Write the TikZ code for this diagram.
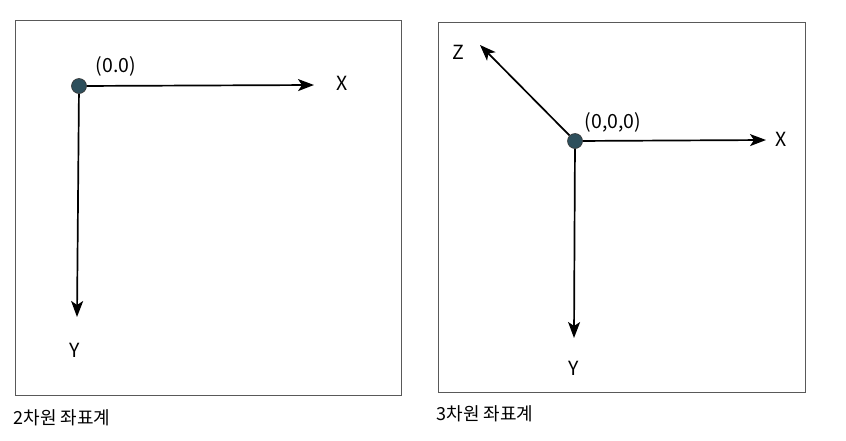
\documentclass[tikz,border=0pt]{standalone}
\usepackage{fontspec}
\setmainfont{Noto Sans CJK KR}
\usetikzlibrary{arrows.meta}
\definecolor{dotfill}{HTML}{2E4F5C}

\tikzset{
  frame/.style={draw=black!65, line width=1pt},
  axis/.style={line width=1.7pt, -{Stealth[length=16pt,width=12pt,inset=4pt]}},
  origin/.style={circle, fill=dotfill, draw=black!80, line width=0.6pt, inner sep=0pt, minimum size=15pt},
  lbl/.style={font=\fontsize{19.5}{22}\selectfont},
  captxt/.style={font=\fontsize{18}{21}\selectfont, anchor=west}
}

\begin{document}
\begin{tikzpicture}[x=1pt, y=-1pt]
\useasboundingbox (0,0) rectangle (846,440);
% 2차원 좌표계
\draw[frame] (15,20) rectangle (401,395);
\node[origin] (o2) at (79,86) {};
\coordinate (x2) at (314,85);
\coordinate (y2) at (77,317);
\draw[axis] (o2) -- (x2);
\draw[axis] (o2) -- (y2);
\node[lbl] (ox2) at (116,66) {(0.0)};
\node[lbl] (xl2) at (342,83) {X};
\node[lbl] (yl2) at (75,350) {Y};
\node[captxt] (c2) at (10,418) {2차원 좌표계};
% 3차원 좌표계
\draw[frame] (438,22) rectangle (805,392);
\node[origin] (o3) at (575,141) {};
\coordinate (x3) at (766,140);
\coordinate (y3) at (574,338);
\coordinate (z3) at (480,45);
\draw[axis] (o3) -- (x3);
\draw[axis] (o3) -- (y3);
\draw[axis] (o3) -- (z3);
\node[lbl] (ox3) at (613,122) {(0,0,0)};
\node[lbl] (xl3) at (781,139) {X};
\node[lbl] (yl3) at (574,368) {Y};
\node[lbl] (zl3) at (458,52) {Z};
\node[captxt] (c3) at (433,414) {3차원 좌표계};
\end{tikzpicture}
\end{document}
